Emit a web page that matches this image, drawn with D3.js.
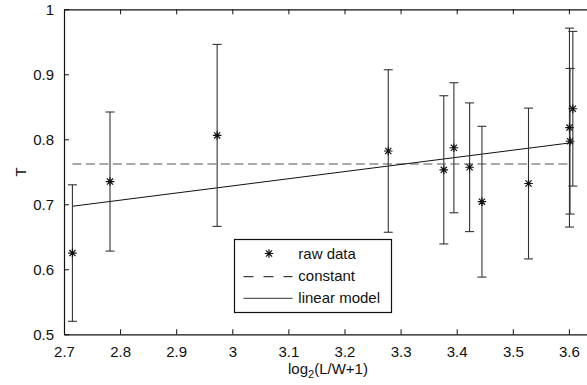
<!DOCTYPE html>
<html><head><meta charset="utf-8">
<script src="https://cdn.jsdelivr.net/npm/d3@7"></script>
<style>
html,body{margin:0;padding:0;background:#fff;}
text{font-family:"Liberation Sans",Arial,sans-serif;font-size:15px;fill:#111;}
</style></head>
<body><svg id="c" width="587" height="385"></svg>
<script>
// data
const xVals   = [2.715, 2.782, 2.973, 3.278, 3.377, 3.395, 3.423, 3.445, 3.528, 3.601, 3.602, 3.607];
const tVals   = [0.625, 0.735, 0.806, 0.782, 0.753, 0.787, 0.757, 0.704, 0.732, 0.818, 0.797, 0.847];
const errVals = [0.105, 0.107, 0.140, 0.125, 0.114, 0.100, 0.099, 0.116, 0.116, 0.153, 0.112, 0.119];
const constantT = 0.762;
const fitX = [2.715, 3.607];
const fitY = [0.697, 0.795];
const xTicks = [2.7, 2.8, 2.9, 3.0, 3.1, 3.2, 3.3, 3.4, 3.5, 3.6];
const xTickLabels = ["2.7","2.8","2.9","3","3.1","3.2","3.3","3.4","3.5","3.6"];
const yTicks = [0.5, 0.6, 0.7, 0.8, 0.9, 1.0];
const yTickLabels = ["0.5","0.6","0.7","0.8","0.9","1"];
const legendLabels = ["raw data","constant","linear model"];

const svg = d3.select("#c");
const L = 64, T = 9.3, B = 334.3;
const x = d3.scaleLinear().domain([2.7, 3.7]).range([L, L + 561]);
const y = d3.scaleLinear().domain([0.5, 1.0]).range([B, T]);

// axes
const gx = svg.append("g").attr("transform", `translate(0,${B})`)
  .call(d3.axisBottom(x).tickValues(xTicks).tickFormat((d,i)=>xTickLabels[i]).tickSizeInner(-5).tickSizeOuter(0).tickPadding(12));
const gxt = svg.append("g").attr("transform", `translate(0,${T})`)
  .call(d3.axisTop(x).tickValues(xTicks).tickFormat("").tickSizeInner(-5).tickSizeOuter(0));
const gy = svg.append("g").attr("transform", `translate(${L},0)`)
  .call(d3.axisLeft(y).tickValues(yTicks).tickFormat((d,i)=>yTickLabels[i]).tickSizeInner(-5).tickSizeOuter(0).tickPadding(13));
[gx,gxt,gy].forEach(g=>{
  g.selectAll(".domain").attr("stroke","#111").attr("stroke-width",1.2);
  g.selectAll(".tick line").attr("stroke","#111");
  g.selectAll(".tick text").attr("font-size",15).attr("font-family","Liberation Sans, Arial, sans-serif").attr("fill","#111");
});
gy.selectAll(".tick text").attr("dx","3px");

// constant dashed
svg.append("line").attr("x1", x(fitX[0])).attr("x2", x(3.6)).attr("y1", y(constantT)).attr("y2", y(constantT))
  .attr("stroke","#555").attr("stroke-width",1.2).attr("stroke-dasharray","9,4.5");

// linear model
svg.append("line").attr("x1", x(fitX[0])).attr("x2", x(fitX[1])).attr("y1", y(fitY[0])).attr("y2", y(fitY[1]))
  .attr("stroke","#111").attr("stroke-width",1);

// error bars
const eb = svg.append("g").attr("stroke","#333").attr("stroke-width",1.1);
xVals.forEach((xv,i)=>{
  const px = x(xv), top = y(tVals[i]+errVals[i]), bot = y(tVals[i]-errVals[i]);
  eb.append("line").attr("x1",px).attr("x2",px).attr("y1",top).attr("y2",bot);
  eb.append("line").attr("x1",px-4.5).attr("x2",px+4.5).attr("y1",top).attr("y2",top);
  eb.append("line").attr("x1",px-4.5).attr("x2",px+4.5).attr("y1",bot).attr("y2",bot);
});

// asterisk markers
function star(g, cx, cy, r){
  const d = r*0.72;
  const p = `M${cx-r},${cy}L${cx+r},${cy}M${cx},${cy-r}L${cx},${cy+r}M${cx-d},${cy-d}L${cx+d},${cy+d}M${cx-d},${cy+d}L${cx+d},${cy-d}`;
  g.append("path").attr("d",p).attr("stroke","#111").attr("stroke-width",1.2).attr("fill","none");
}
const mk = svg.append("g");
xVals.forEach((xv,i)=> star(mk, x(xv), y(tVals[i]), 4.3));

// legend
const lg = svg.append("g");
lg.append("rect").attr("x",234.5).attr("y",239.5).attr("width",157).attr("height",73)
  .attr("fill","#fff").attr("stroke","#111").attr("stroke-width",1.2);
star(lg, 269, 253.5, 4.3);
lg.append("line").attr("x1",243.5).attr("x2",292.5).attr("y1",276.7).attr("y2",276.7)
  .attr("stroke","#111").attr("stroke-width",1).attr("stroke-dasharray","10,10");
lg.append("line").attr("x1",243.5).attr("x2",292.5).attr("y1",298.3).attr("y2",298.3)
  .attr("stroke","#333").attr("stroke-width",1);
[259, 281, 303.3].forEach((by,i)=>{
  lg.append("text").attr("x",298.3).attr("y",by).text(legendLabels[i]);
});

// axis labels
const xl = svg.append("text").attr("x",328).attr("y",374).attr("text-anchor","middle");
xl.append("tspan").text("log");
xl.append("tspan").attr("font-size",11).attr("dy",4).text("2");
xl.append("tspan").attr("dy",-4).text("(L/W+1)");
svg.append("text").attr("transform","translate(25.5,171.8) rotate(-90)").attr("text-anchor","middle").text("T");
</script></body></html>
